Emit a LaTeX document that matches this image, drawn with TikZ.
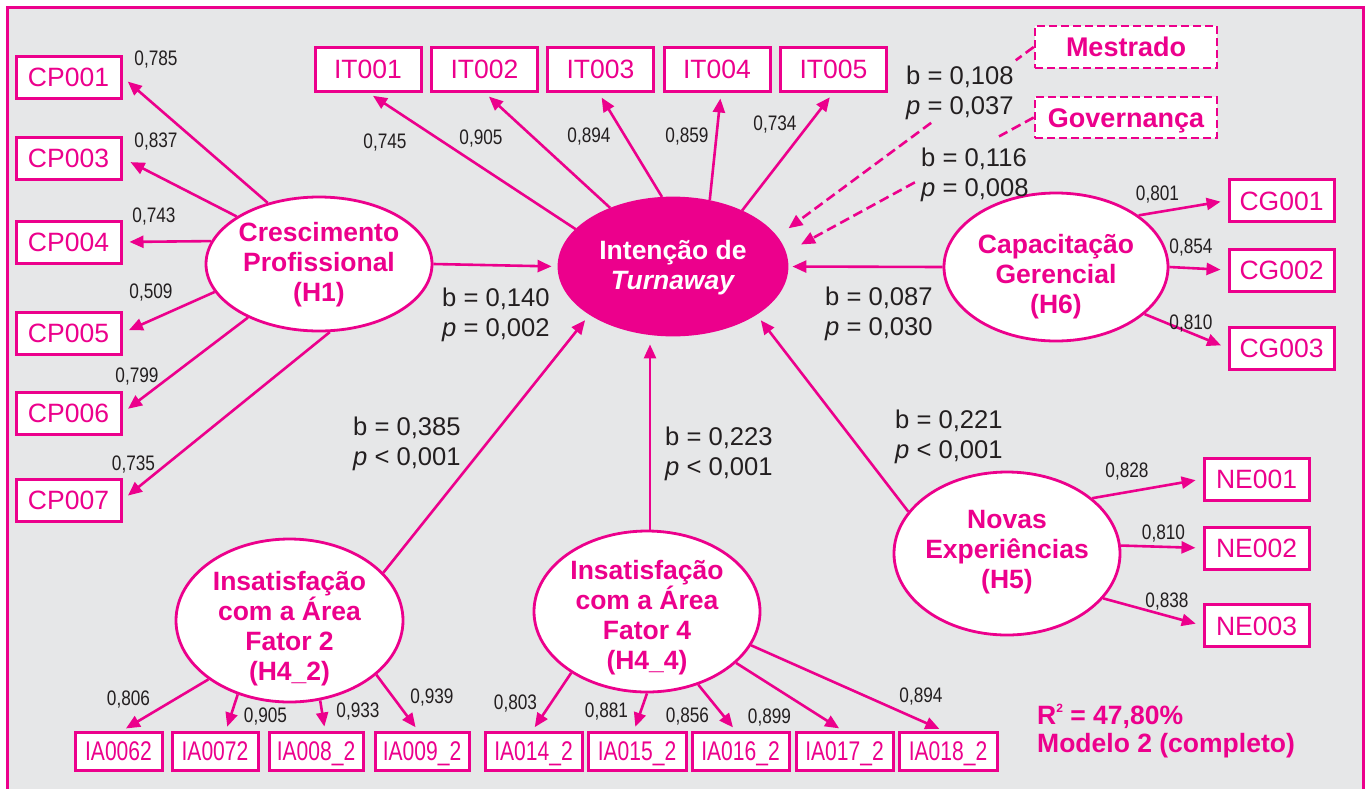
\documentclass[tikz,border=0pt]{standalone}
\usepackage{fontspec}
\setmainfont{Liberation Sans}
\usepackage{graphicx}
\usetikzlibrary{arrows.meta,shapes.geometric,calc}
\definecolor{mag}{HTML}{EC008C}
\definecolor{bgg}{HTML}{E6E7E8}
\definecolor{ink}{HTML}{231F20}
\newcommand{\cnd}[1]{\scalebox{0.82}[1]{#1}}
\newcommand{\cia}[1]{\scalebox{0.78}[1]{#1}}
\begin{document}
\begin{tikzpicture}[x=1pt,y=-1pt,
  mv/.style={draw=mag, line width=3pt, fill=white, inner sep=0pt, minimum width=105pt, minimum height=42pt, text=mag, font=\fontsize{26.5}{30}\selectfont, text height=19pt, text depth=0pt},
  itbox/.style={mv, minimum width=106pt, minimum height=44pt},
  iabox/.style={mv, minimum height=38pt, font=\fontsize{27}{30}\selectfont, text height=19.3pt},
  lat/.style={draw=mag, line width=2.8pt, fill=white, ellipse, inner sep=0pt},
  lattext/.style={text=mag, font=\bfseries\fontsize{26.5}{30}\selectfont, align=center, inner sep=0pt},
  ld/.style={text=ink, font=\fontsize{21}{24}\selectfont, inner sep=0pt, text height=15pt, text depth=0pt},
  pl/.style={text=ink, font=\fontsize{25.6}{29.3}\selectfont, align=left, inner sep=0pt, anchor=north west},
  arr/.style={draw=mag, line width=2.6pt, -{Triangle[length=14pt,width=12pt]}},
  dseg/.style={draw=mag, line width=2.6pt, dash pattern=on 10pt off 5pt},
  darr/.style={arr, dash pattern=on 10pt off 5pt},
  modbox/.style={draw=mag, line width=2.6pt, dash pattern=on 8pt off 4pt, fill=white, minimum width=182pt, minimum height=42pt, inner sep=0pt, text=mag, font=\bfseries\fontsize{27}{30}\selectfont, text height=19.3pt, text depth=0pt},
  r2style/.style={text=mag, font=\bfseries\fontsize{26.5}{30}\selectfont, inner sep=0pt, anchor=base west},
]
\useasboundingbox (0,0) rectangle (1368,788);
\fill[white] (0,0) rectangle (1368,788);
\draw[mag, line width=2.7pt, fill=bgg] (7.5,7.5) rectangle (1363.5,800);

% latent variables
\node[lat, minimum width=226pt, minimum height=134pt] (cpE) at (319,264) {};
\node[lat, fill=mag, minimum width=228pt, minimum height=137pt] (itE) at (673,266.5) {};
\node[lat, minimum width=224pt, minimum height=148pt] (cgE) at (1056,267) {};
\node[lat, minimum width=226pt, minimum height=163pt] (neE) at (1007,553.5) {};
\node[lat, minimum width=227pt, minimum height=163pt] (f2E) at (289.5,620.5) {};
\node[lat, minimum width=226pt, minimum height=161pt] (f4E) at (647,611.5) {};

\node[lattext] (cpT) at (319,265) {Crescimento\\Profissional\\(H1)};
\node[lattext, text=white] (itT) at (673,267.5) {Intenção de\\\textit{Turnaway}};
\node[lattext] (cgT) at (1056,277) {Capacitação\\Gerencial\\(H6)};
\node[lattext] (neT) at (1007,552.5) {Novas\\Experiências\\(H5)};
\node[lattext] (f2T) at (289.5,629) {Insatisfação\\com a Área\\Fator 2\\(H4\_2)};
\node[lattext] (f4T) at (647,618) {Insatisfação\\com a Área\\Fator 4\\(H4\_4)};

% indicators
\node[mv] (cp001) at (68.5,77) {CP001};
\node[mv] (cp003) at (68.5,158) {CP003};
\node[mv] (cp004) at (68.5,242) {CP004};
\node[mv] (cp005) at (68.5,333) {CP005};
\node[mv] (cp006) at (68.5,413) {CP006};
\node[mv] (cp007) at (68.5,500) {CP007};

\node[itbox] (it001) at (368,69) {IT001};
\node[itbox] (it002) at (484.5,69) {IT002};
\node[itbox] (it003) at (600.5,69) {IT003};
\node[itbox] (it004) at (717,69) {IT004};
\node[itbox] (it005) at (833.5,69) {IT005};

\node[mv] (cg001) at (1281.5,200.5) {CG001};
\node[mv] (cg002) at (1281.5,270) {CG002};
\node[mv] (cg003) at (1281.5,348) {CG003};

\node[mv] (ne001) at (1256.5,479) {NE001};
\node[mv] (ne002) at (1256.5,548) {NE002};
\node[mv] (ne003) at (1256.5,625.5) {NE003};

\node[iabox, minimum width=87pt] (ia006) at (118.5,751) {\cia{IA0062}};
\node[iabox, minimum width=86pt] (ia007) at (215,751) {\cia{IA0072}};
\node[iabox, minimum width=94pt] (ia008) at (316,751) {\cia{IA008\_2}};
\node[iabox, minimum width=94pt] (ia009) at (422,751) {\cia{IA009\_2}};
\node[iabox, minimum width=97pt] (ia014) at (533.5,751) {\cia{IA014\_2}};
\node[iabox, minimum width=98pt] (ia015) at (637,751) {\cia{IA015\_2}};
\node[iabox, minimum width=97pt] (ia016) at (740.5,751) {\cia{IA016\_2}};
\node[iabox, minimum width=97pt] (ia017) at (844.5,751) {\cia{IA017\_2}};
\node[iabox, minimum width=98pt] (ia018) at (948,751) {\cia{IA018\_2}};

\node[modbox] (mest) at (1126,47) {Mestrado};
\node[modbox, minimum height=41pt] (gov) at (1126,117.5) {Governança};

% loadings arrows
\draw[arr, shorten >=7pt] (cpE.130) -- (cp001.east);
\draw[arr, shorten >=9pt] (cpE.150) -- (cp003.east);
\draw[arr, shorten >=7pt] (cpE.168) -- (cp004.east);
\draw[arr, shorten >=7pt] (cpE.195) -- (cp005.east);
\draw[arr, shorten >=7pt] (cpE.217) -- (cp006.east);
\draw[arr, shorten >=7pt] (cpE.279) -- (cp007.east);

\draw[arr, shorten >=6pt] (itE.159.2) -- (it001.south);
\draw[arr, shorten >=6pt] (itE.137.2) -- (it002.south);
\draw[arr, shorten >=6pt] (itE.99.1) -- ([xshift=-2pt]it003.south);
\draw[arr, shorten >=6pt] (itE.61.5) -- ([xshift=4pt]it004.south);
\draw[arr, shorten >=6pt] (itE.39.2) -- (it005.south);

\draw[arr, shorten >=7pt] (cgE.32) -- (cg001.west);
\draw[arr, shorten >=7pt] (cgE.0) -- (cg002.west);
\draw[arr, shorten >=7pt] (cgE.-28) -- (cg003.west);

\draw[arr, shorten >=7pt] (neE.33) -- (ne001.west);
\draw[arr, shorten >=7pt] (neE.4) -- (ne002.west);
\draw[arr, shorten >=7pt] (neE.-25) -- (ne003.west);

\draw[arr, shorten >=4pt] (f2E.216) -- ([xshift=4pt]ia006.north);
\draw[arr, shorten >=4pt] (f2E.235) -- ([xshift=11pt]ia007.north);
\draw[arr, shorten >=4pt] (f2E.291) -- ([xshift=9pt]ia008.north);
\draw[arr, shorten >=4pt] (f2E.328) -- ([xshift=-4pt]ia009.north);
\draw[arr, shorten >=4pt] (f4E.219) -- ([xshift=-1pt]ia014.north);
\draw[arr, shorten >=4pt] (f4E.270) -- ([xshift=-3pt]ia015.north);
\draw[arr, shorten >=4pt] (f4E.305) -- ([xshift=-5pt]ia016.north);
\draw[arr, shorten >=4pt] (f4E.330) -- ([xshift=-2pt]ia017.north);
\draw[arr, shorten >=4pt] (f4E.342) -- ([xshift=-5pt]ia018.north);

% structural paths
\draw[arr, shorten >=6pt] (cpE.east) -- (itE.west);
\draw[arr, shorten >=4pt] (cgE.west) -- (itE.east);
\draw[arr, shorten >=7pt] (f2E.27.7) -- (itE.210.5);
\draw[arr, shorten >=8pt] ([xshift=3pt]f4E.north) -- ([xshift=-23pt]itE.south);
\draw[arr, shorten >=7pt] (neE.157.5) -- (itE.330.8);
% moderator paths (interrupted behind their labels)
\draw[dseg] (mest.west) -- ($(mest.west)!0.07!(itE.16.3)$);
\draw[darr, shorten >=14pt] ($(mest.west)!0.40!(itE.16.3)$) -- (itE.16.3);
\draw[dseg] (gov.west) -- ($(gov.west)!0.14!(itE.7.8)$);
\draw[darr, shorten >=17pt] ($(gov.west)!0.48!(itE.7.8)$) -- (itE.7.8);

% loadings
\node[ld] (l1) at (156,57.5) {\cnd{0,785}};
\node[ld] (l2) at (156,140) {\cnd{0,837}};
\node[ld] (l3) at (154,215) {\cnd{0,743}};
\node[ld] (l4) at (151,291) {\cnd{0,509}};
\node[ld] (l5) at (137,374.5) {\cnd{0,799}};
\node[ld] (l6) at (133.5,462.5) {\cnd{0,735}};
\node[ld] (l7) at (385,141) {\cnd{0,745}};
\node[ld] (l8) at (481,137) {\cnd{0,905}};
\node[ld] (l9) at (589,135) {\cnd{0,894}};
\node[ld] (l10) at (687,135) {\cnd{0,859}};
\node[ld] (l11) at (775,122.5) {\cnd{0,734}};
\node[ld] (l12) at (1157.5,192.5) {\cnd{0,801}};
\node[ld] (l13) at (1191,246) {\cnd{0,854}};
\node[ld] (l14) at (1191,322) {\cnd{0,810}};
\node[ld] (l15) at (1127,470) {\cnd{0,828}};
\node[ld] (l16) at (1163.5,532) {\cnd{0,810}};
\node[ld] (l17) at (1167,600) {\cnd{0,838}};
\node[ld] (l18) at (128.5,698) {\cnd{0,806}};
\node[ld] (l19) at (265.5,714.5) {\cnd{0,905}};
\node[ld] (l20) at (358,710) {\cnd{0,933}};
\node[ld] (l21) at (432,696) {\cnd{0,939}};
\node[ld] (l22) at (515.5,701.5) {\cnd{0,803}};
\node[ld] (l23) at (606.5,709.5) {\cnd{0,881}};
\node[ld] (l24) at (687.5,714.5) {\cnd{0,856}};
\node[ld] (l25) at (769.5,715.5) {\cnd{0,899}};
\node[ld] (l26) at (921,694.5) {\cnd{0,894}};

% path coefficients
\node[pl] (p1) at (442,288) {b = 0,140\\\textit{p} = 0,002};
\node[pl] (p2) at (825,287) {b = 0,087\\\textit{p} = 0,030};
\node[pl] (p3) at (906,66) {b = 0,108\\\textit{p} = 0,037};
\node[pl] (p4) at (921,148) {b = 0,116\\\textit{p} = 0,008};
\node[pl] (p5) at (353,417) {b = 0,385\\\textit{p} < 0,001};
\node[pl] (p6) at (665,427) {b = 0,223\\\textit{p} < 0,001};
\node[pl] (p7) at (895,410) {b = 0,221\\\textit{p} < 0,001};

\node[r2style] (r2T) at (1037,724) {R\raisebox{12pt}{\fontsize{12}{12}\selectfont 2} = 47,80\%};
\node[r2style] (modT) at (1037,752) {Modelo 2 (completo)};
\end{tikzpicture}
\end{document}
